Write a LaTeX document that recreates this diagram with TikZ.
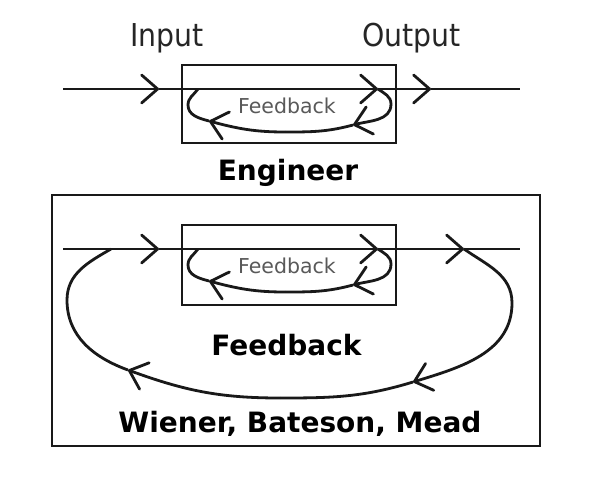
\documentclass[tikz,border=0pt]{standalone}
\usepackage{fontspec}
\setmainfont{DejaVu Sans}
\newfontfamily\condfont{DejaVu Sans Condensed}
\usetikzlibrary{arrows.meta}
\begin{document}
\begin{tikzpicture}[x=1pt,y=1pt,
  ln/.style={line width=2.8pt, draw=black!90, line join=round},
  chev/.style={ln, -{Straight Barb[length=16pt,width=28pt,round]}},
  boxst/.style={draw=black!90, line width=2.8pt, inner sep=0pt, outer sep=0pt},
  lbl/.style={anchor=base, inner sep=0pt, text=black!85, font=\condfont\fontsize{31.5}{36}\selectfont},
  small/.style={anchor=base, inner sep=0pt, text=black!65, font=\fontsize{20.5}{24}\selectfont},
  bold/.style={anchor=base, inner sep=0pt, text=black, font=\fontsize{28}{33}\selectfont\bfseries}]
\useasboundingbox (0,0) rectangle (591,-480);

% ---------- top: Engineer ----------
\node[lbl] (input) at (167,-46.5) {Input};
\node[lbl] (output) at (411.5,-46.5) {Output};
\node[boxst, minimum width=214pt, minimum height=78pt] (tbox) at (289,-104) {};
\node[small] (tfb) at (287,-113.5) {Feedback};
\node[bold] (eng) at (288,-180) {Engineer};

\coordinate (tL) at (63,-89);
\coordinate (t1) at (159,-89);
\coordinate (t2) at (378,-89);
\coordinate (t3) at (431,-89);
\coordinate (tR) at (520,-89);
\draw[chev] (tL) -- (t1);
\draw[chev] (t1) -- (t2);
\draw[chev] (t2) -- (t3);
\draw[ln] (t3) -- (tR);

\coordinate (tB) at (391,-104);
\coordinate (tC) at (353,-125);
\coordinate (tD) at (285,-132);
\coordinate (tE) at (209,-121);
\coordinate (tF) at (188,-105);
\coordinate (tG) at (198,-89);
\draw[ln] (t2) to[out=-35,in=90] (tB);
\draw[chev] (tB) to[out=-90,in=15] (tC);
\draw[ln] (tC) to[out=195,in=0] (tD);
\draw[chev] (tD) to[out=180,in=-15] (tE);
\draw[ln] (tE) to[out=165,in=-90] (tF);
\draw[ln] (tF) to[out=90,in=-125] (tG);

% ---------- bottom: Wiener, Bateson, Mead ----------
\node[boxst, minimum width=488pt, minimum height=251pt] (bigbox) at (296,-320.5) {};
\node[boxst, minimum width=214pt, minimum height=80pt] (bbox) at (289,-265) {};
\node[small] (bfb) at (287,-273.5) {Feedback};
\node[bold] (fb) at (286.5,-355) {Feedback};
\node[bold] (wbm) at (300,-432) {Wiener, Bateson, Mead};

\coordinate (bL) at (63,-249);
\coordinate (b1) at (159,-249);
\coordinate (b2) at (378,-249);
\coordinate (b3) at (464,-249);
\coordinate (bR) at (520,-249);
\draw[chev] (bL) -- (b1);
\draw[chev] (b1) -- (b2);
\draw[chev] (b2) -- (b3);
\draw[ln] (b3) -- (bR);

\coordinate (bB) at (391,-264);
\coordinate (bC) at (353,-285);
\coordinate (bD) at (285,-292);
\coordinate (bE) at (209,-281);
\coordinate (bF) at (188,-265);
\coordinate (bG) at (198,-249);
\draw[ln] (b2) to[out=-35,in=90] (bB);
\draw[chev] (bB) to[out=-90,in=15] (bC);
\draw[ln] (bC) to[out=195,in=0] (bD);
\draw[chev] (bD) to[out=180,in=-15] (bE);
\draw[ln] (bE) to[out=165,in=-90] (bF);
\draw[ln] (bF) to[out=90,in=-125] (bG);

\coordinate (oB) at (512,-303);
\coordinate (oC) at (413,-382);
\coordinate (oD) at (280,-398);
\coordinate (oE) at (128,-370);
\coordinate (oF) at (67,-300);
\coordinate (oG) at (111,-249);
\draw[ln] (b3) to[out=-35,in=90] (oB);
\draw[chev] (oB) to[out=-90,in=17] (oC);
\draw[ln] (oC) to[out=197,in=0] (oD);
\draw[chev] (oD) to[out=180,in=-20] (oE);
\draw[ln] (oE) to[out=160,in=-90] (oF);
\draw[ln] (oF) to[out=90,in=-150] (oG);
\end{tikzpicture}
\end{document}
